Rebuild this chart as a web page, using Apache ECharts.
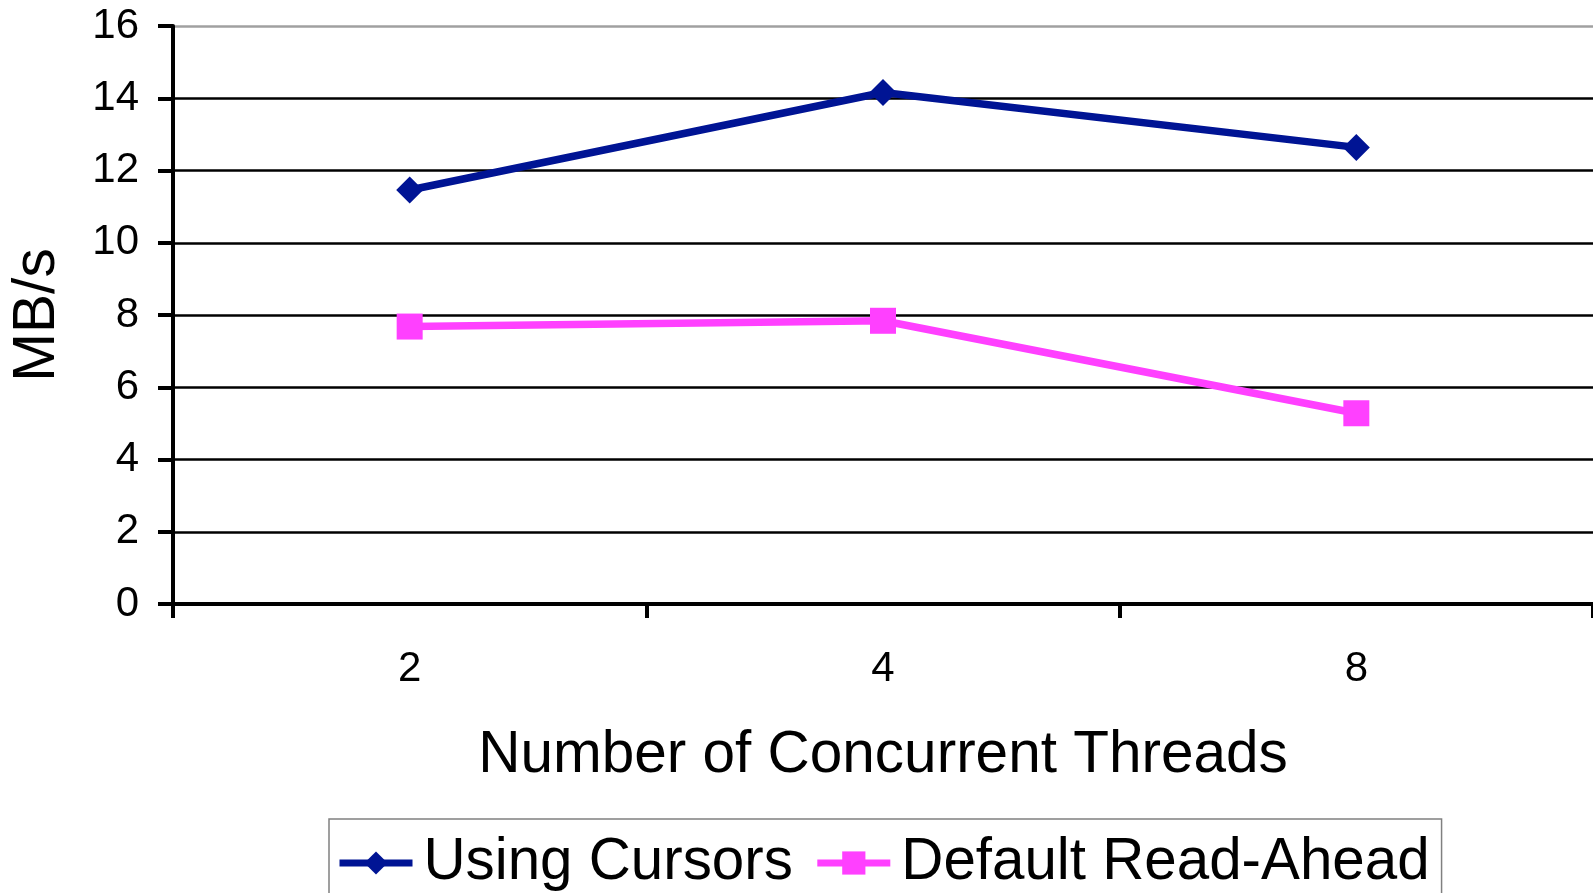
<!DOCTYPE html>
<html>
<head>
<meta charset="utf-8">
<script src="https://cdn.jsdelivr.net/npm/echarts@6/dist/echarts.min.js"></script>
<style>
html,body{margin:0;padding:0;background:#fff;}
#chart{width:1593px;height:893px;}
</style>
</head>
<body>
<div id="chart"></div>
<script>
const categories = ['2', '4', '8'];
const usingCursors = [11.46, 14.16, 12.64];
const defaultReadAhead = [7.68, 7.84, 5.28];
const seriesNames = ['Using Cursors', 'Default Read-Ahead'];
const yTicks = { min: 0, max: 16, interval: 2 };

const FONT = '"Liberation Sans", Arial, Helvetica, sans-serif';
const chart = echarts.init(document.getElementById('chart'), null, { renderer: 'canvas' });

const gridColors = ['#000', '#000', '#000', '#000', '#000', '#000', '#000', '#000', '#a0a0a0'];

chart.setOption({
  backgroundColor: '#ffffff',
  animation: false,
  grid: { left: 173, top: 26, width: 1423, height: 578, containLabel: false },
  legend: {
    left: 329, top: 819,
    padding: [15, 12, 10, 7],
    borderColor: '#808080', borderWidth: 1.5,
    itemWidth: 73, itemHeight: 29, itemGap: 21,
    lineStyle: { width: 7 },
    textStyle: { fontFamily: FONT, fontSize: 58.3, color: '#000', padding: [0, 0, 0, 6] },
    data: seriesNames
  },
  xAxis: {
    type: 'category',
    data: categories,
    boundaryGap: true,
    name: 'Number of Concurrent Threads',
    nameLocation: 'middle',
    nameGap: 152,
    nameTextStyle: { fontFamily: FONT, fontSize: 58.5, color: '#000', verticalAlign: 'middle' },
    axisLine: { lineStyle: { color: '#000', width: 4 } },
    axisTick: { show: true, length: 14, lineStyle: { color: '#000', width: 4 }, alignWithLabel: false },
    axisLabel: { fontFamily: FONT, fontSize: 42, color: '#000', margin: 44 },
    splitLine: { show: false }
  },
  yAxis: {
    type: 'value',
    min: yTicks.min, max: yTicks.max, interval: yTicks.interval,
    name: 'MB/s',
    nameLocation: 'middle',
    nameGap: 135,
    nameTextStyle: { fontFamily: FONT, fontSize: 58.5, color: '#000', verticalAlign: 'middle' },
    axisLine: { show: true, lineStyle: { color: '#000', width: 4 } },
    axisTick: { show: true, length: 15, lineStyle: { color: '#000', width: 4 } },
    axisLabel: { fontFamily: FONT, fontSize: 42, color: '#000', margin: 34 },
    splitLine: { show: true, lineStyle: { color: gridColors, width: 2.5 } }
  },
  series: [
    {
      name: seriesNames[0],
      type: 'line',
      data: usingCursors,
      symbol: 'diamond',
      symbolSize: [27, 27],
      color: '#001494',
      lineStyle: { color: '#001494', width: 7.5 },
      itemStyle: { color: '#001494' },
      z: 3
    },
    {
      name: seriesNames[1],
      type: 'line',
      data: defaultReadAhead,
      symbol: 'rect',
      symbolSize: [26, 26],
      color: '#ff40ff',
      lineStyle: { color: '#ff40ff', width: 7.5 },
      itemStyle: { color: '#ff40ff' },
      z: 3
    }
  ]
});
</script>
</body>
</html>
